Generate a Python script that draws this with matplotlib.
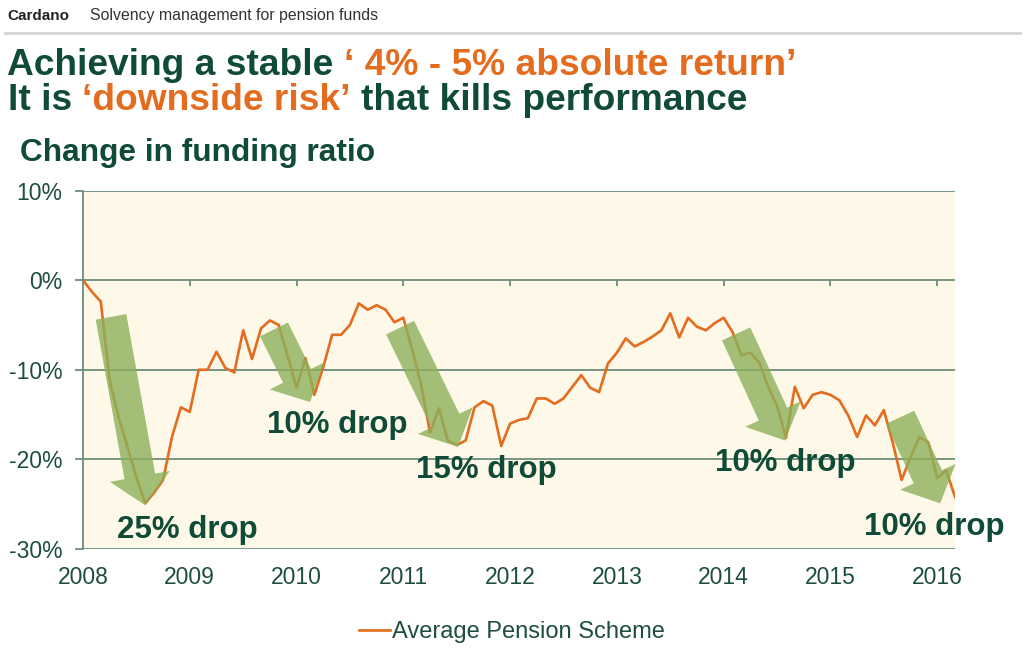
import numpy as np
import matplotlib
matplotlib.use("Agg")
import matplotlib.pyplot as plt

# change in funding ratio (%), monthly from Jan 2008
funding_change = [
    0.0, -1.3, -2.4, -11.2, -15.3, -18.6, -22.0, -24.9, -23.7, -22.3, -17.5, -14.2,
    -14.7, -10.0, -10.0, -8.0, -9.8, -10.3, -5.6, -8.8, -5.4, -4.5, -5.0, -8.5,
    -12.0, -8.7, -12.8, -9.7, -6.1, -6.1, -5.0, -2.6, -3.3, -2.8, -3.3, -4.7,
    -4.2, -7.8, -11.7, -17.0, -14.3, -17.9, -18.4, -17.9, -14.2, -13.5, -14.0, -18.5,
    -16.0, -15.6, -15.4, -13.2, -13.2, -13.8, -13.2, -11.9, -10.6, -12.0, -12.5, -9.3,
    -8.1, -6.5, -7.4, -6.9, -6.3, -5.6, -3.7, -6.4, -4.2, -5.2, -5.6, -4.8,
    -4.2, -5.8, -8.4, -8.1, -9.2, -11.9, -14.0, -17.6, -11.9, -14.3, -12.8, -12.5,
    -12.8, -13.4, -15.1, -17.5, -15.1, -16.2, -14.5, -18.1, -22.3, -19.8, -17.5, -18.1,
    -22.1, -21.2, -24.2,
]
start_year = 2008
years = [2008, 2009, 2010, 2011, 2012, 2013, 2014, 2015, 2016]
y_ticks = [10, 0, -10, -20, -30]
series_name = "Average Pension Scheme"

drop_labels = ["25% drop", "10% drop", "15% drop", "10% drop", "10% drop"]
drop_label_xy = [(2008.98, -27.9), (2010.38, -16.2), (2011.78, -21.2),
                 (2014.58, -20.4), (2015.97, -27.6)]
drop_arrows = [((2008.262, -4.1), (2008.581, -25.1)),
               ((2009.789, -5.5), (2010.126, -13.6)),
               ((2010.970, -5.3), (2011.513, -18.6)),
               ((2014.117, -6.0), (2014.576, -17.9)),
               ((2015.653, -15.3), (2016.028, -24.9))]

GREEN = "#0F4B36"
ORANGE = "#E36C1E"
GRID = "#6B8C7C"
TICKTXT = "#1E4D40"
CREAM = "#FDF8E8"
ARROW = "#8DB05A"

plt.rcParams["font.family"] = ["Liberation Sans", "DejaVu Sans"]

W, H = 1024, 654
fig = plt.figure(figsize=(W / 100, H / 100), dpi=100)
fig.patch.set_facecolor("white")


def px(x, y):
    """pixel position (from top-left) -> figure fraction"""
    return x / W, 1 - y / H


# header
fig.text(*px(7, 20), "Cardano", fontsize=11, fontweight="bold", color="#222222")
fig.text(*px(90, 20), "Solvency management for pension funds", fontsize=11.4, color="#333333")
fig.add_artist(plt.Line2D([5 / W, 1020 / W], [1 - 33 / H] * 2, color="#D4D4D4", lw=2))


def colored_line(x, y, parts, size):
    renderer = fig.canvas.get_renderer()
    space = size * 100 / 72 * 0.278
    for text, color in parts:
        t = fig.text(*px(x, y), text, fontsize=size, fontweight="bold", color=color)
        bb = t.get_window_extent(renderer)
        x = bb.x1 + space


colored_line(7, 75, [("Achieving a stable", GREEN),
                     ("\u2018 4% - 5% absolute return\u2019", ORANGE)], 26.7)
colored_line(8, 110, [("It is", GREEN), ("\u2018downside risk\u2019", ORANGE),
                      ("that kills performance", GREEN)], 26.7)
fig.text(*px(20, 161), "Change in funding ratio", fontsize=22.8, fontweight="bold", color=GREEN)

# chart
ax = fig.add_axes([83 / W, 1 - 549 / H, (955 - 83) / W, (549 - 190.5) / H])
ax.set_facecolor(CREAM)

x = start_year + np.arange(len(funding_change)) / 12
ax.plot(x, funding_change, color=ORANGE, lw=1.9, zorder=3, label=series_name)

ax.set_xlim(start_year, x[-1])
ax.set_ylim(-30, 10)
ax.set_yticks(y_ticks)
ax.set_yticklabels([f"{v}%" for v in y_ticks])
ax.set_xticks(years)
ax.set_xticklabels([str(y) for y in years])
ax.yaxis.grid(True, color=GRID, lw=1.3, zorder=1)
ax.set_axisbelow(True)
for side in ["top", "right", "bottom"]:
    ax.spines[side].set_visible(False)
ax.spines["left"].set_color(GRID)
ax.spines["left"].set_linewidth(1.3)
ax.tick_params(axis="y", length=6, width=1.3, color=GRID, pad=9,
               labelsize=16.5, labelcolor=TICKTXT)
ax.tick_params(axis="x", length=0, pad=12, labelsize=16.5, labelcolor=TICKTXT)

# year ticks sit on the 0% line
ax.vlines(years[1:], -0.7, 0, color=GRID, lw=1.3, zorder=2)

for (tail, tip) in drop_arrows:
    ax.annotate("", xy=tip, xytext=tail,
                arrowprops=dict(arrowstyle="simple,head_length=1.05,head_width=2.2,tail_width=1.12",
                                mutation_scale=20, fc=ARROW, ec="none", alpha=0.8,
                                shrinkA=0, shrinkB=0),
                zorder=4)

for label, (lx, ly) in zip(drop_labels, drop_label_xy):
    ax.text(lx, ly, label, fontsize=22.5, fontweight="bold", color=GREEN,
            ha="center", va="center", zorder=5, clip_on=False)

fig.legend(loc="center", bbox_to_anchor=(0.5, 1 - 632 / H), frameon=False,
           fontsize=17, labelcolor=TICKTXT, handlelength=1.3, handletextpad=0.1)

fig.savefig("out.png", dpi=100, facecolor="white")
